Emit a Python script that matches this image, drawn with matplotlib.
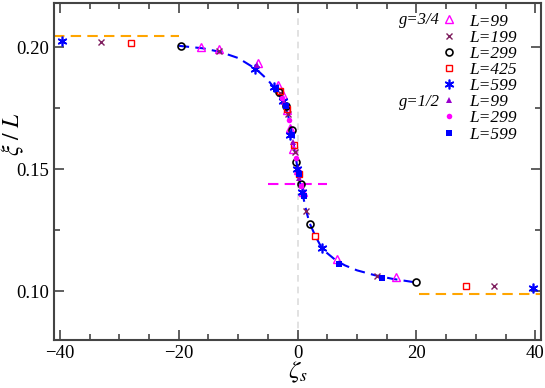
import numpy as np
import matplotlib
matplotlib.use("Agg")
import matplotlib.pyplot as plt
from matplotlib.lines import Line2D
from matplotlib.ticker import MultipleLocator, FormatStrFormatter

plt.rcParams['font.family'] = ['Liberation Serif', 'DejaVu Serif']
plt.rcParams['mathtext.fontset'] = 'stix'

# scaling curve (blue dashed)
curve_x = [-20, -16, -13, -10, -7, -5, -4, -3, -2, -1.5, -1, -0.5, 0, 0.5, 1, 1.5, 2, 3, 4, 5, 6.5, 8, 10, 13, 16, 20]
curve_y = [0.2005, 0.1995, 0.198, 0.1955, 0.191, 0.1865, 0.1835, 0.180, 0.175, 0.171, 0.1655, 0.158, 0.150,
           0.1435, 0.138, 0.1325, 0.128, 0.1225, 0.118, 0.1155, 0.1125, 0.1105, 0.1085, 0.1065, 0.105, 0.1035]

# asymptotes
left_x, left_y = [-41, -20], [0.2045, 0.2045]
right_x, right_y = [20.5, 41], [0.0987, 0.0987]
mid_x, mid_y = [-5, 5], [0.1440, 0.1440]

# g = 3/4
l99_x = [-16.3, -13.3, -6.6, -3.3, -2.4, -1.8, -1.25, -0.7, 0.05, 0.9, 6.6, 16.5]
l99_y = [0.2000, 0.1990, 0.1934, 0.1844, 0.1803, 0.1740, 0.1668, 0.1582, 0.1496, 0.1406, 0.1131, 0.1056]
l199_x = [-33.0, -13.2, -2.9, -1.6, -0.4, 1.4, 13.3, 33.0]
l199_y = [0.2020, 0.1985, 0.1810, 0.1725, 0.1570, 0.1330, 0.1061, 0.1022]
l299_x = [-19.7, -3.2, -2.0, -1.0, -0.2, 0.5, 2.1, 19.9]
l299_y = [0.2005, 0.1815, 0.1760, 0.1660, 0.1530, 0.1440, 0.1275, 0.1038]
l425_x = [-28.1, -3.0, -1.7, -0.6, 0.3, 2.9, 28.3]
l425_y = [0.2018, 0.1820, 0.1745, 0.1600, 0.1480, 0.1227, 0.1022]
l599_x = [-39.7, -7.1, -3.9, -2.5, -1.2, -0.1, 0.8, 4.1, 39.7]
l599_y = [0.2025, 0.1912, 0.1837, 0.1780, 0.1640, 0.1500, 0.1405, 0.1177, 0.1011]

# g = 1/2
h99_x = [-6.8, -2.2, -0.8, 0.3, 7.0]
h99_y = [0.1925, 0.1775, 0.1610, 0.1465, 0.1115]
h299_x = [-2.6, -1.4, -0.3, 0.6]
h299_y = [0.1790, 0.1700, 0.1545, 0.1430]
h599_x = [-3.6, -1.9, -0.9, 0.2, 1.0, 7.0, 14.2]
h599_y = [0.1830, 0.1760, 0.1640, 0.1480, 0.1390, 0.1110, 0.1053]

fig = plt.figure(figsize=(5.45, 3.88), dpi=100)
ax = fig.add_axes([0.099, 0.124, 0.894, 0.868])

ax.axvline(0, color='#dddddd', ls=(0, (4, 3)), lw=1.2, zorder=0)
ax.plot(left_x, left_y, color='#ffa500', ls=(0, (5, 3)), lw=1.5)
ax.plot(right_x, right_y, color='#ffa500', ls=(0, (5, 3)), lw=1.5)
ax.plot(mid_x, mid_y, color='#ff00ff', ls=(0, (5, 3)), lw=1.5)
ax.plot(curve_x, curve_y, color='#0000ff', ls=(0, (5, 3)), lw=1.5, zorder=2)

series = [
    (l99_x, l99_y, dict(marker='^', mfc='none', mec='#ff00ff', ms=6, mew=1.0), 'L=99'),
    (l199_x, l199_y, dict(marker='x', color='#7f1f5f', ms=5, mew=1.0), 'L=199'),
    (l299_x, l299_y, dict(marker='o', mfc='none', mec='black', ms=5, mew=1.2), 'L=299'),
    (l425_x, l425_y, dict(marker='s', mfc='none', mec='#ff0000', ms=5, mew=1.0), 'L=425'),
    (l599_x, l599_y, dict(marker=(6, 2, 0), color='#0000ff', ms=7, mew=1.2), 'L=599'),
    (h99_x, h99_y, dict(marker='^', color='#9900cc', ms=4, mew=0), 'L=99'),
    (h299_x, h299_y, dict(marker='o', color='#ff00ff', ms=4, mew=0), 'L=299'),
    (h599_x, h599_y, dict(marker='s', color='#0000ff', ms=4, mew=0), 'L=599'),
]
handles = []
labels = []
for xs, ys, st, lab in series:
    ax.plot(xs, ys, ls='none', zorder=3, **st)
    handles.append(Line2D([], [], ls='none', **st))
    labels.append(lab)

ax.legend(handles, labels, loc='upper left', bbox_to_anchor=(0.778, 0.99), frameon=False,
          handlelength=1.0, handletextpad=0.7, labelspacing=0.0, borderaxespad=0,
          prop=dict(family='Liberation Serif', style='italic', size=12.5))
ax.text(0.708, 0.95, 'g=3/4', transform=ax.transAxes, fontsize=12, style='italic', va='center')
ax.text(0.708, 0.706, 'g=1/2', transform=ax.transAxes, fontsize=12, style='italic', va='center')

ax.set_xlim(-41, 41)
ax.set_ylim(0.08, 0.218)
ax.xaxis.set_major_locator(MultipleLocator(20))
ax.xaxis.set_minor_locator(MultipleLocator(5))
ax.yaxis.set_major_locator(MultipleLocator(0.05))
ax.yaxis.set_minor_locator(MultipleLocator(0.025))
ax.yaxis.set_major_formatter(FormatStrFormatter('%.2f'))
ax.tick_params(which='both', direction='in', top=True, right=True, labelsize=13.5, color='#444444')
ax.tick_params(which='major', length=7, width=1.2)
ax.tick_params(which='minor', length=4, width=1.2)
for s in ax.spines.values():
    s.set_linewidth(1.5)
    s.set_color('#444444')

ax.set_xlabel('$\\zeta_s$', fontsize=18)
ax.xaxis.set_label_coords(0.5, -0.06)
ax.set_ylabel('$\\xi\\ /\\ L$', fontsize=17)
ax.yaxis.set_label_coords(-0.058, 0.61)

fig.savefig('out.png', dpi=100)
